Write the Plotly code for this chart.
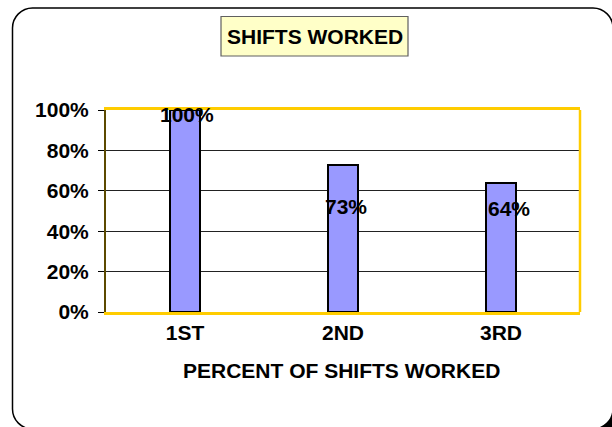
import plotly.graph_objects as go

# ---- data ----
categories = ["1ST", "2ND", "3RD"]
values = [1.00, 0.73, 0.64]
value_labels = ["100%", "73%", "64%"]
y_ticks = [0, 0.2, 0.4, 0.6, 0.8, 1.0]
y_tick_labels = ["0%", "20%", "40%", "60%", "80%", "100%"]

title_text = "SHIFTS WORKED"
x_title_text = "PERCENT OF SHIFTS WORKED"

# ---- layout geometry (pixels) ----
W, H = 612, 427
L, R, T, B = 106, 580, 110, 312  # plot area edges in pixels
PW, PH = R - L, B - T

# label placement styles (label centre in axis units, and pixel x shift), as in the Excel original
label_y_pos = [0.976, 0.524, 0.512]
label_x_shift = [2, 3, 8]


def px(x):
    return (x - L) / PW


def py(y):
    return (B - y) / PH


def rounded_rect(x0, y0, x1, y1, r):
    k = 0.5523 * r

    def P(x, y):
        return f"{px(x):.5f},{py(y):.5f}"
    d = (
        f"M {P(x0 + r, y0)} L {P(x1 - r, y0)} "
        f"C {P(x1 - r + k, y0)} {P(x1, y0 + r - k)} {P(x1, y0 + r)} "
        f"L {P(x1, y1 - r)} "
        f"C {P(x1, y1 - r + k)} {P(x1 - r + k, y1)} {P(x1 - r, y1)} "
        f"L {P(x0 + r, y1)} "
        f"C {P(x0 + r - k, y1)} {P(x0, y1 - r + k)} {P(x0, y1 - r)} "
        f"L {P(x0, y0 + r)} "
        f"C {P(x0, y0 + r - k)} {P(x0 + r - k, y0)} {P(x0 + r, y0)} Z"
    )
    return d


FONT = "Arial, 'Liberation Sans', sans-serif"
GOLD = "#FFCC00"

fig = go.Figure()
fig.add_trace(
    go.Bar(
        x=categories,
        y=values,
        width=0.187,
        marker=dict(color="#9999FF", line=dict(color="#000000", width=2)),
        hoverinfo="skip",
    )
)

shapes = [
    # shadow
    dict(type="path", xref="paper", yref="paper", layer="below",
         path=rounded_rect(20.5, 16, 621, 437, 20),
         fillcolor="#000000", line=dict(color="#000000", width=0)),
    # frame
    dict(type="path", xref="paper", yref="paper", layer="below",
         path=rounded_rect(12.5, 8, 613, 429, 20),
         fillcolor="#FFFFFF", line=dict(color="#000000", width=1.5)),
    # right border of the plot area
    dict(type="line", xref="paper", yref="paper", layer="above",
         x0=1, x1=1, y0=0, y1=1, line=dict(color=GOLD, width=2.5)),
    # title box
    dict(type="rect", xref="paper", yref="paper", layer="above",
         x0=px(221), x1=px(408), y0=py(16.5), y1=py(56),
         fillcolor="#FFFFC8", line=dict(color="#606060", width=1.2)),
]

annotations = [
    dict(text=title_text, xref="paper", yref="paper", x=px(314.5), y=py(36.5),
         xanchor="center", yanchor="middle", showarrow=False,
         font=dict(family=FONT, size=21, color="#000000", weight="bold")),
    dict(text=x_title_text, xref="paper", yref="paper", x=px(341.5), y=py(370.5),
         xanchor="center", yanchor="middle", showarrow=False,
         font=dict(family=FONT, size=21, color="#000000", weight="bold")),
]
for c, lab, ly, xs in zip(categories, value_labels, label_y_pos, label_x_shift):
    annotations.append(
        dict(text=lab, x=c, y=ly, xref="x", yref="y", xshift=xs,
             xanchor="center", yanchor="middle", showarrow=False,
             font=dict(family=FONT, size=21, color="#000000", weight="bold"))
    )

fig.update_layout(
    width=W, height=H,
    margin=dict(l=L, r=W - R, t=T, b=H - B, pad=0),
    paper_bgcolor="#FFFFFF",
    plot_bgcolor="#FFFFCC",
    showlegend=False,
    bargap=0,
    shapes=shapes,
    annotations=annotations,
    font=dict(family=FONT, size=21, color="#000000", weight="bold"),
)

fig.update_xaxes(
    type="category",
    range=[-0.5, 2.5],
    showgrid=False,
    showline=True, linecolor=GOLD, linewidth=2.5, mirror=True,
    ticks="", ticklabelstandoff=0,
    tickfont=dict(family=FONT, size=21, color="#000000", weight="bold"),
    zeroline=False,
)
fig.update_yaxes(
    range=[0, 1],
    tickvals=y_ticks, ticktext=y_tick_labels,
    showgrid=True, gridcolor="#222222", gridwidth=1,
    showline=True, linecolor="#5C4A00", linewidth=2, mirror=False,
    ticks="outside", ticklen=6, tickcolor="#000000", tickwidth=1,
    ticklabelstandoff=5,
    tickfont=dict(family=FONT, size=21, color="#000000", weight="bold"),
    zeroline=False,
)

fig.write_html("out.html", config={"displayModeBar": False},
               post_script="document.body.style.margin='0';")
